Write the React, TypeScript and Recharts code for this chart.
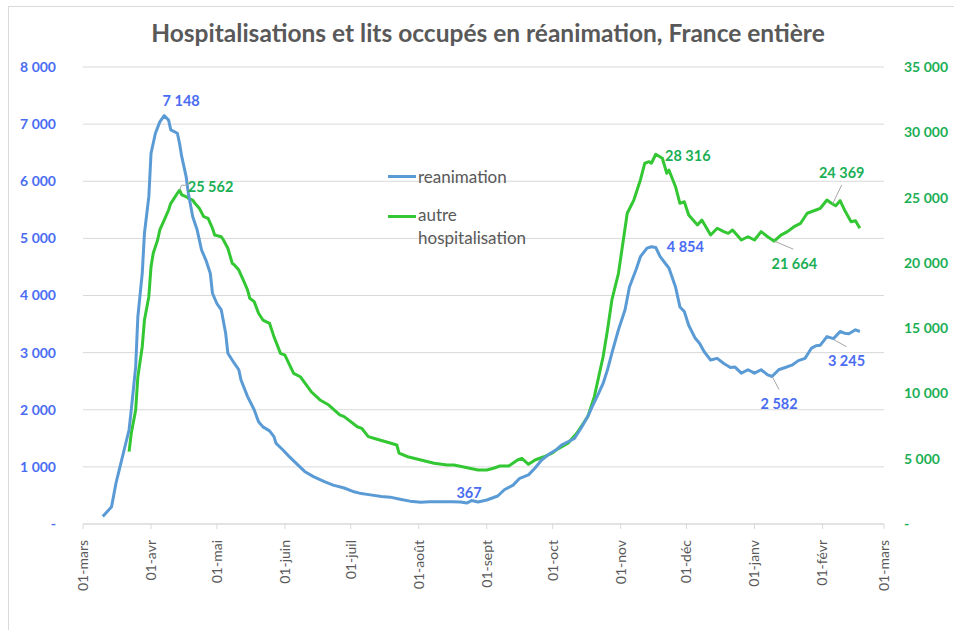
import { LineChart, Line, XAxis, YAxis, CartesianGrid } from "recharts";

// jours comptés depuis le 01-mars-2020
const moisTicks = [0, 31, 61, 92, 122, 153, 184, 214, 245, 275, 306, 337, 365];
const moisLabels = [
  "01-mars", "01-avr", "01-mai", "01-juin", "01-juil", "01-août",
  "01-sept", "01-oct", "01-nov", "01-déc", "01-janv", "01-févr", "01-mars",
];

const reaTicks = [0, 1000, 2000, 3000, 4000, 5000, 6000, 7000, 8000];
const hospTicks = [0, 5000, 10000, 15000, 20000, 25000, 30000, 35000];

const reaJours = [
  9, 13, 15, 18, 21, 22, 24, 25, 27, 28, 30, 31, 33, 35, 37, 39, 40, 43, 44, 45,
  47, 48, 50, 52, 54, 56, 58, 59, 61, 63, 65, 66, 69, 71, 72, 75, 78, 80, 82, 85,
  87, 88, 91, 94, 98, 101, 105, 110, 114, 119, 123, 126, 131, 136, 140, 145, 149, 154, 158, 163,
  168, 172, 175, 177, 180, 184, 189, 192, 196, 199, 203, 206, 209, 213, 216, 218, 221, 224, 227, 230,
  232, 235, 237, 239, 241, 244, 247, 249, 252, 254, 257, 259, 261, 263, 266, 267, 270, 272, 274, 276,
  279, 281, 283, 286, 289, 292, 295, 297, 300, 303, 306, 309, 312, 314, 317, 320, 323, 326, 329, 332,
  334, 336, 339, 342, 345, 347, 349, 352, 354,
];
const reaValeurs = [
  130, 300, 710, 1180, 1650, 2000, 2750, 3630, 4390, 5090, 5730, 6490, 6840, 7040, 7148, 7070, 6900, 6840, 6660, 6430,
  6080, 5790, 5380, 5150, 4800, 4620, 4390, 4040, 3860, 3750, 3340, 2990, 2810, 2700, 2520, 2230, 2000, 1790, 1700, 1630,
  1530, 1410, 1300, 1180, 1030, 920, 830, 740, 680, 630, 570, 540, 510, 480, 470, 430, 400, 380, 390, 390,
  390, 385, 367, 410, 385, 420, 490, 600, 680, 800, 860, 980, 1120, 1240, 1310, 1380, 1440, 1500, 1680, 1880,
  2050, 2290, 2460, 2700, 2990, 3400, 3750, 4150, 4450, 4680, 4830, 4854, 4840, 4680, 4530, 4480, 4150, 3800, 3720, 3480,
  3250, 3160, 3020, 2870, 2900, 2810, 2740, 2750, 2640, 2700, 2640, 2700, 2610, 2582, 2700, 2740, 2780, 2860, 2900, 3080,
  3120, 3130, 3280, 3245, 3370, 3340, 3330, 3400, 3370,
];

const hospJours = [
  21, 22, 24, 25, 27, 28, 30, 31, 32, 34, 35, 37, 39, 40, 41, 43, 44, 45, 47, 48,
  50, 51, 53, 55, 57, 59, 60, 63, 64, 66, 68, 69, 71, 73, 75, 76, 78, 80, 82, 85,
  87, 90, 92, 96, 99, 104, 108, 112, 117, 119, 125, 127, 130, 134, 138, 143, 144, 148, 154, 160,
  166, 169, 174, 180, 184, 187, 190, 194, 198, 200, 203, 206, 210, 214, 216, 218, 221, 225, 230, 233,
  237, 239, 241, 244, 246, 248, 251, 254, 256, 258, 259, 261, 264, 266, 267, 270, 272, 274, 276, 280,
  282, 286, 289, 292, 294, 296, 300, 303, 306, 309, 312, 315, 318, 321, 324, 327, 330, 334, 336, 339,
  341, 343, 345, 347, 350, 352, 354,
];
const hospValeurs = [
  5540, 6950, 8730, 11280, 13580, 15620, 17410, 19710, 20730, 21750, 22520, 23280, 24050, 24560, 24810, 25330, 25562, 25200, 25070, 24940,
  24810, 24560, 24180, 23540, 23410, 22650, 22130, 22000, 21750, 21120, 19970, 19840, 19450, 18690, 17920, 17290, 17030, 16140, 15620, 15370,
  14350, 13070, 12940, 11540, 11280, 10130, 9500, 9110, 8350, 8220, 7450, 7330, 6690, 6490, 6300, 6050, 5420, 5150, 4900, 4650,
  4520, 4520, 4340, 4140, 4140, 4270, 4440, 4440, 4900, 5030, 4570, 4900, 5150, 5450, 5720, 5900, 6180, 6950, 8220, 9750,
  12810, 14860, 17160, 19200, 21500, 23800, 24810, 26350, 27630, 27750, 27630, 28316, 28010, 26860, 27110, 25830, 24560, 24680, 23670, 22900,
  23280, 22130, 22650, 22390, 22260, 22520, 21750, 22000, 21750, 22390, 22000, 21664, 22130, 22390, 22770, 23030, 23800, 24050, 24180, 24810,
  24560, 24369, 24760, 24050, 23150, 23230, 22650,
];

const reaData = reaJours.map((jour, i) => ({ jour, rea: reaValeurs[i] }));
const hospData = hospJours.map((jour, i) => ({ jour, hosp: hospValeurs[i] }));

const BLEU = "#5B9BD5";
const VERT = "#33C733";
const BLEU_TXT = "#4A6CF2";
const VERT_TXT = "#1BAF55";
const GRIS = "#595959";
const FONT = "Lato, 'Open Sans', sans-serif";

type Annotation = { jour: number; dx: number; dy: number; leader?: number[][] };

// étiquettes de valeurs (jour annoté, décalage du texte, trait de rappel)
const reaAnnotations: Annotation[] = [
  { jour: 37, dx: 17, dy: -15 },
  { jour: 175, dx: 2, dy: -11 },
  { jour: 259, dx: 34, dy: 0 },
  { jour: 314, dx: 7, dy: 27, leader: [[0, 0], [7, 13]] },
  { jour: 342, dx: 13, dy: 22, leader: [[0, 1], [13, 8]] },
];
const hospAnnotations: Annotation[] = [
  { jour: 44, dx: 31, dy: -4, leader: [[0, 0], [2, -5], [8, -5]] },
  { jour: 261, dx: 32, dy: 1 },
  { jour: 315, dx: 20, dy: 22, leader: [[0, 0], [19, 8]] },
  { jour: 343, dx: 6, dy: -33, leader: [[-3, -2], [6, -21]] },
];

const fmt = (v: number) =>
  v === 0 ? "-" : String(v).replace(/\B(?=(\d{3})+(?!\d))/g, " ");

function makeLabel(data: { jour: number }[], notes: Annotation[], color: string) {
  return (props: any) => {
    const { x, y, index, value } = props;
    const row = data[index];
    const a = row ? notes.find((n) => n.jour === row.jour) : undefined;
    if (!a) return <g key={`l-${index}`} />;
    return (
      <g key={`l-${index}`}>
        {a.leader && (
          <polyline
            points={a.leader.map(([px, py]) => `${x + px},${y + py}`).join(" ")}
            fill="none"
            stroke="#A6A6A6"
            strokeWidth={1}
          />
        )}
        <text
          x={x + a.dx}
          y={y + a.dy}
          textAnchor="middle"
          dominantBaseline="central"
          fill={color}
          fontFamily={FONT}
          fontWeight={700}
          fontSize={14.5}
        >
          {fmt(value)}
        </text>
      </g>
    );
  };
}

function MoisTick(props: any) {
  const { x, y, payload } = props;
  const i = moisTicks.indexOf(payload.value);
  return (
    <g transform={`translate(${x},${y})`}>
      <text
        transform="rotate(-90)"
        x={-9}
        y={0}
        dy="0.35em"
        textAnchor="end"
        fill={GRIS}
        fontFamily={FONT}
        fontSize={14}
      >
        {moisLabels[i]}
      </text>
    </g>
  );
}

export default function App() {
  return (
    <div
      style={{
        position: "absolute",
        left: 0,
        top: 0,
        width: 954,
        height: 630,
        overflow: "hidden",
        background: "#fff",
        fontFamily: FONT,
      }}
    >
      <div
        style={{
          position: "absolute",
          left: 8,
          top: 6,
          width: 1000,
          height: 700,
          border: "1px solid #D9D9D9",
        }}
      />
      <div
        style={{
          position: "absolute",
          left: 0,
          top: 18,
          width: 976,
          textAlign: "center",
          fontSize: 24.5,
          fontWeight: 700,
          color: GRIS,
          whiteSpace: "nowrap",
        }}
      >
        Hospitalisations et lits occupés en réanimation, France entière
      </div>
      <div style={{ position: "absolute", left: 0, top: 0 }}>
        <LineChart
          width={954}
          height={630}
          margin={{ top: 67, right: 0, bottom: 0, left: 0 }}
        >
          <CartesianGrid
            yAxisId="left"
            vertical={false}
            stroke="#D9D9D9"
            strokeWidth={1}
          />
          <XAxis
            dataKey="jour"
            type="number"
            domain={[0, 365]}
            ticks={moisTicks}
            interval={0}
            allowDuplicatedCategory={false}
            height={106}
            stroke="#D9D9D9"
            tickSize={5}
            tick={<MoisTick />}
          />
          <YAxis
            yAxisId="left"
            domain={[0, 8000]}
            ticks={reaTicks}
            width={83}
            axisLine={false}
            tickLine={false}
            tickSize={0}
            tickMargin={27}
            tickFormatter={fmt}
            tick={{ fill: BLEU_TXT, fontSize: 14, fontWeight: 700, fontFamily: FONT }}
          />
          <YAxis
            yAxisId="right"
            orientation="right"
            domain={[0, 35000]}
            ticks={hospTicks}
            width={70}
            axisLine={false}
            tickLine={false}
            tickSize={0}
            tickMargin={20}
            tickFormatter={fmt}
            tick={{ fill: VERT_TXT, fontSize: 14, fontWeight: 700, fontFamily: FONT }}
          />
          <Line
            yAxisId="right"
            data={hospData}
            dataKey="hosp"
            name="autre hospitalisation"
            type="linear"
            stroke={VERT}
            strokeWidth={3}
            strokeLinejoin="round"
            dot={false}
            isAnimationActive={false}
            label={makeLabel(hospData, hospAnnotations, VERT_TXT)}
          />
          <Line
            yAxisId="left"
            data={reaData}
            dataKey="rea"
            name="reanimation"
            type="linear"
            stroke={BLEU}
            strokeWidth={3}
            strokeLinejoin="round"
            dot={false}
            isAnimationActive={false}
            label={makeLabel(reaData, reaAnnotations, BLEU_TXT)}
          />
        </LineChart>
      </div>
      <div style={{ position: "absolute", left: 388, top: 163, color: GRIS, fontSize: 17 }}>
        <div style={{ display: "flex", alignItems: "center", height: 26 }}>
          <span style={{ width: 28, height: 3, background: BLEU, marginRight: 2 }} />
          <span>reanimation</span>
        </div>
        <div style={{ display: "flex", alignItems: "flex-start", marginTop: 14 }}>
          <span style={{ width: 28, height: 3, background: VERT, marginRight: 2, marginTop: 12 }} />
          <span style={{ lineHeight: "23px" }}>
            autre
            <br />
            hospitalisation
          </span>
        </div>
      </div>
    </div>
  );
}
